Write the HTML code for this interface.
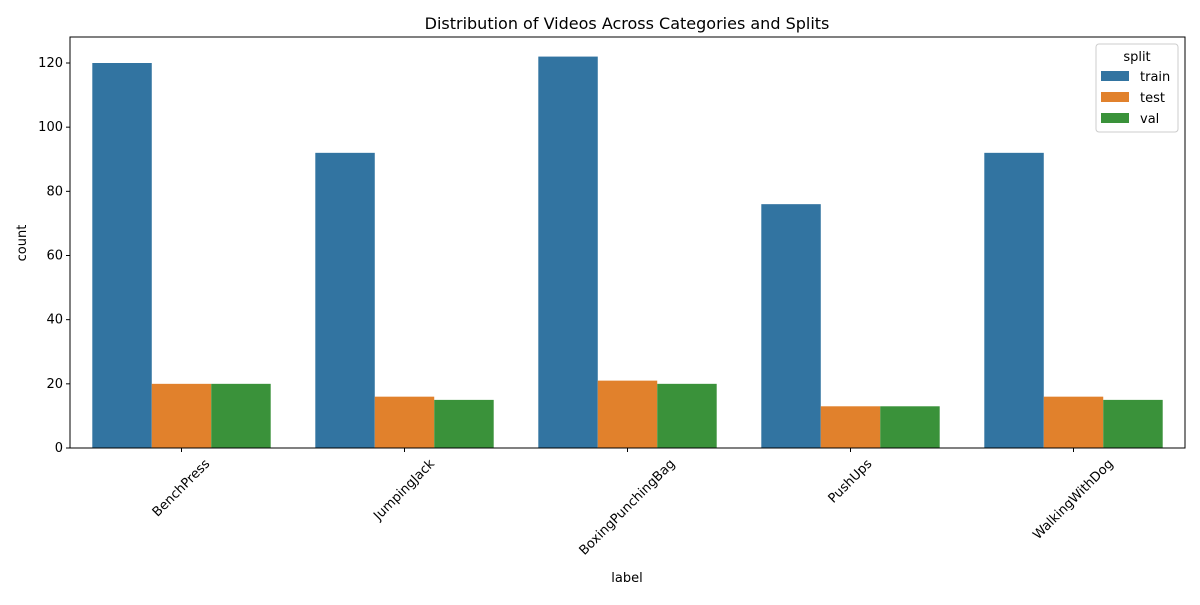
<!DOCTYPE html>
<html><head><meta charset="utf-8"><style>body{margin:0;background:#fff}svg{font-family:"DejaVu Sans","Liberation Sans",sans-serif}</style></head>
<body>
<svg id="chart" width="1200" height="600">
<text x="627" y="29" font-size="16" text-anchor="middle">Distribution of Videos Across Categories and Splits</text>
<g id="plot"></g>
<text x="627" y="582" font-size="13" text-anchor="middle">label</text>
<text x="26" y="243" font-size="13" text-anchor="middle" transform="rotate(-90 26 243)">count</text>
</svg>
<script>
const categories=["BenchPress","JumpingJack","BoxingPunchingBag","PushUps","WalkingWithDog"];
const seriesNames=["train","test","val"];
const trainValues=[120,92,122,76,92];
const testValues=[20,16,21,13,16];
const valValues=[20,15,20,13,15];
const yTicks=[0,20,40,60,80,100,120];
const colors=["#3274a1","#e1812c","#3a923a"];
const L=70,R=1185,T=37,B=448;
const y=v=>B-v*(385/120);
const band=(R-L)/categories.length;
const xc=i=>L+band*(i+0.5);
const bw=band*0.8/3;
const ns="http://www.w3.org/2000/svg";
const g=document.getElementById('plot');
function mk(t,a){const e=document.createElementNS(ns,t);for(const k in a)e.setAttribute(k,a[k]);g.appendChild(e);return e;}
const series=[trainValues,testValues,valValues];
series.forEach((vals,s)=>vals.forEach((v,i)=>{
 const r=mk('rect',{x:xc(i)-1.5*bw+s*bw,y:y(v),width:bw,height:B-y(v),fill:colors[s]});
 
 
}));
yTicks.forEach(t=>{
 const l=mk('line',{x1:L-4,x2:L,y1:y(t),y2:y(t),stroke:'#000'});
 
 
 const tx=mk('text',{x:L-7,y:y(t)+4,'font-size':13,'text-anchor':'end'});tx.textContent=t;
 
 
});
categories.forEach((c,i)=>{
 const x=xc(i);
 const l=mk('line',{x1:x,x2:x,y1:B,y2:B+4,stroke:'#000'});
 
 
 const tx=mk('text',{x:x,y:0,'font-size':13,'text-anchor':'middle','dominant-baseline':'central'});tx.textContent=c;
 
 
 const len=tx.getComputedTextLength();
 const cy=B+9+(len+14)*0.7071/2;
 tx.setAttribute('y',cy);
 tx.setAttribute('transform',`rotate(-45 ${x} ${cy})`);
});
const fr=mk('rect',{x:L,y:T,width:R-L,height:B-T,fill:'none',stroke:'#000','stroke-width':1});


const lg=mk('rect',{x:1096,y:44,width:82,height:88,fill:'#fff',stroke:'#ccc',rx:3});


const lt=mk('text',{x:1137,y:61,'font-size':13,'text-anchor':'middle'});lt.textContent='split';


seriesNames.forEach((n,s)=>{
 const yy=71+s*21;
 const sw=mk('rect',{x:1101,y:yy,width:28,height:10,fill:colors[s]});
 
 
 const t=mk('text',{x:1140,y:yy+10,'font-size':13});t.textContent=n;
 
 
});
</script>
</body></html>
